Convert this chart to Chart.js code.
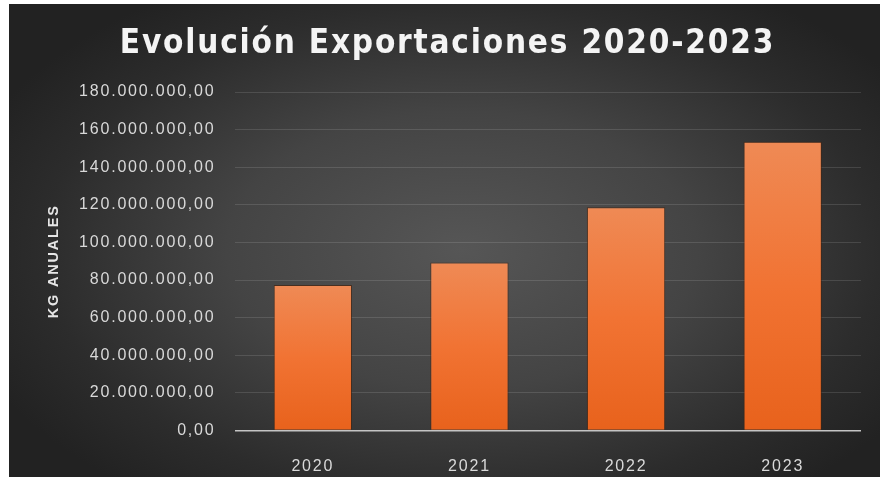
<!DOCTYPE html>
<html>
<head>
<meta charset="utf-8">
<script src="https://cdn.jsdelivr.net/npm/chart.js@4.4.0/dist/chart.umd.min.js"></script>
<style>
  html, body { margin: 0; padding: 0; background: #ffffff; }
  #frame {
    position: absolute;
    left: 9px;
    top: 4px;
    width: 871px;
    height: 473px;
    background: radial-gradient(ellipse 60% 65% at 52% 52%, #565656 0%, #444444 45%, #2c2c2c 80%, #222222 100%);
  }
</style>
</head>
<body>
<div id="frame"><canvas id="export-chart"></canvas></div>
<script>
const years = ["2020", "2021", "2022", "2023"];
const kgAnuales = [77400000, 89300000, 118700000, 153600000];
const yTickValues = [0, 20000000, 40000000, 60000000, 80000000, 100000000, 120000000, 140000000, 160000000, 180000000];

function formatKg(value) {
  const whole = Math.round(value).toString().replace(/\B(?=(\d{3})+(?!\d))/g, ".");
  return whole + ",00";
}

// the picture is a bit stretched sideways, so space the letters out
const letterSpacing = {
  id: "letterSpacing",
  beforeLayout(chart) {
    chart.ctx.letterSpacing = "1.8px";
  },
  beforeDraw(chart) {
    chart.ctx.letterSpacing = "1.8px";
  },
};

function barGradient(context) {
  const chart = context.chart;
  if (!chart.chartArea) return "#f07030";
  const yScale = chart.scales.y;
  const top = yScale.getPixelForValue(context.raw);
  const base = yScale.getPixelForValue(0);
  const g = chart.ctx.createLinearGradient(0, top, 0, base);
  g.addColorStop(0, "#ef8a55");
  g.addColorStop(0.5, "#f17333");
  g.addColorStop(1, "#e8621c");
  return g;
}

const chart = new Chart(document.getElementById("export-chart"), {
  type: "bar",
  data: {
    labels: years,
    datasets: [
      {
        label: "KG ANUALES",
        data: kgAnuales,
        backgroundColor: barGradient,
        borderColor: "rgba(70, 35, 15, 0.7)",
        borderWidth: 1,
        barPercentage: 0.5,
        categoryPercentage: 1,
      },
    ],
  },
  options: {
    responsive: true,
    maintainAspectRatio: false,
    animation: false,
    layout: { padding: { left: 25, right: 19, top: 0, bottom: 0 } },
    plugins: {
      legend: { display: false },
      tooltip: { enabled: false },
      title: {
        display: true,
        text: "Evolución Exportaciones 2020-2023",
        color: "#f4f4f4",
        font: { family: "DejaVu Sans Condensed", size: 33, weight: "bold" },
        padding: { top: 21, bottom: 27.4 },
      },
    },
    scales: {
      x: {
        grid: { display: false },
        border: { display: false },
        ticks: {
          color: "#d9d9d9",
          padding: 18,
          font: { family: "Liberation Sans", size: 16 },
        },
        afterFit: (scale) => {
          scale.height = 46.5;
        },
      },
      y: {
        min: 0,
        max: 180000000,
        afterBuildTicks: (scale) => {
          scale.ticks = yTickValues.map((v) => ({ value: v }));
        },
        grid: {
          drawTicks: false,
          color: (ctx) => (ctx.tick && ctx.tick.value === 0 ? "#c4c4c4" : "rgba(255, 255, 255, 0.12)"),
          lineWidth: (ctx) => (ctx.tick && ctx.tick.value === 0 ? 1.6 : 1),
        },
        border: { display: false },
        ticks: {
          color: "#d9d9d9",
          padding: 19,
          font: { family: "Liberation Sans", size: 16 },
          callback: (value) => formatKg(value),
        },
        title: {
          display: true,
          text: "KG ANUALES",
          color: "#e6e6e6",
          font: { family: "Liberation Sans", size: 14.5, weight: "bold" },
          padding: { top: 11, bottom: 0 },
        },
        afterFit: (scale) => {
          scale.width = 200.5;
        },
      },
    },
  },
  plugins: [letterSpacing],
});
</script>
</body>
</html>
